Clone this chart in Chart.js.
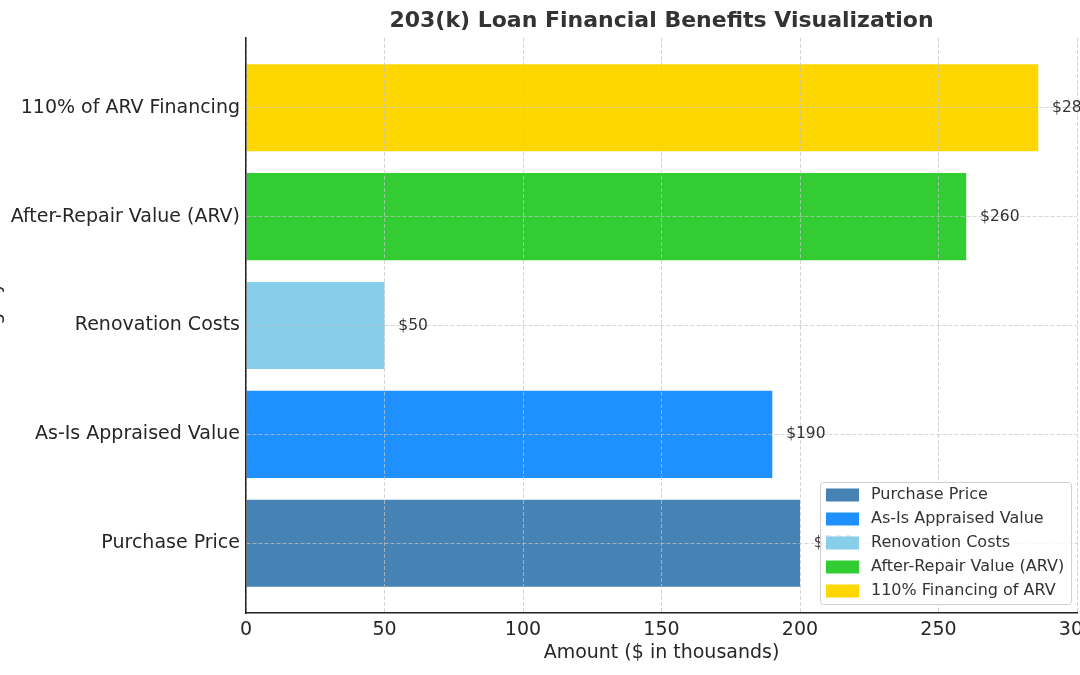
<!DOCTYPE html>
<html>
<head>
<meta charset="utf-8">
<script src="https://cdn.jsdelivr.net/npm/chart.js@4"></script>
<style>
  html, body { margin: 0; padding: 0; background: #ffffff; }
  #wrap { width: 1080px; height: 675px; }
</style>
</head>
<body>
<div id="wrap"><canvas id="c" width="1080" height="675"></canvas></div>
<script>
const categories = ['Purchase Price', 'As-Is Appraised Value', 'Renovation Costs', 'After-Repair Value (ARV)', '110% of ARV Financing'];
const amounts = [200, 190, 50, 260, 286];
const legendLabels = ['Purchase Price', 'As-Is Appraised Value', 'Renovation Costs', 'After-Repair Value (ARV)', '110% Financing of ARV'];
const barColors = ['#4682B4', '#1E90FF', '#87CEEB', '#32CD32', '#FFD700'];
const xTicks = [0, 50, 100, 150, 200, 250, 300];

const FONT = 'DejaVu Sans';
const TXT = '#262626';
const GRID = 'rgba(195,195,195,0.7)';

const valueLabels = {
  id: 'valueLabels',
  afterDraw(chart) {
    const ctx = chart.ctx;
    const xs = chart.scales.x;
    const meta = chart.getDatasetMeta(0);
    ctx.save();
    ctx.font = '15.5px "' + FONT + '"';
    ctx.fillStyle = '#333333';
    ctx.textAlign = 'left';
    ctx.textBaseline = 'middle';
    meta.data.forEach((bar, i) => {
      const v = amounts[i];
      ctx.fillText('$' + v, xs.getPixelForValue(v + 5), bar.y);
    });
    ctx.restore();
  }
};

const boxLegend = {
  id: 'boxLegend',
  afterDraw(chart) {
    const ctx = chart.ctx;
    const area = chart.chartArea;
    const boxW = 251, rowH = 24, boxH = 122;
    const x0 = area.right - 6 - boxW;
    const y0 = area.bottom - 9 - boxH;
    ctx.save();
    ctx.beginPath();
    ctx.roundRect(x0 + 0.5, y0 + 0.5, boxW, boxH, 3);
    ctx.fillStyle = 'rgba(255,255,255,0.85)';
    ctx.fill();
    ctx.strokeStyle = '#d0d0d0';
    ctx.lineWidth = 1;
    ctx.stroke();
    ctx.font = '16px "' + FONT + '"';
    ctx.textBaseline = 'middle';
    ctx.textAlign = 'left';
    legendLabels.forEach((lab, i) => {
      const cy = y0 + 13 + i * rowH;
      ctx.fillStyle = barColors[i];
      ctx.fillRect(x0 + 6, cy - 6.5, 33, 13);
      ctx.fillStyle = '#333333';
      ctx.fillText(lab, x0 + 51, cy);
    });
    ctx.restore();
  }
};

const ctx = document.getElementById('c').getContext('2d');
new Chart(ctx, {
  type: 'bar',
  data: {
    datasets: [{
      data: amounts.map((v, i) => ({ x: v, y: i })),
      backgroundColor: barColors,
      borderWidth: 0,
      barPercentage: 1.0,
      categoryPercentage: 0.8
    }]
  },
  options: {
    indexAxis: 'y',
    responsive: false,
    animation: false,
    devicePixelRatio: 1,
    layout: { padding: { left: 0, right: 3, top: 0, bottom: 0 } },
    plugins: {
      legend: { display: false },
      tooltip: { enabled: false },
      title: {
        display: true,
        text: '203(k) Loan Financial Benefits Visualization',
        fullSize: false,
        color: '#333333',
        font: { family: FONT, size: 22, weight: 'bold', lineHeight: 1.2 },
        padding: { top: 8, bottom: 3.6 }
      }
    },
    scales: {
      x: {
        type: 'linear',
        position: 'bottom',
        min: 0,
        max: 300,
        afterBuildTicks(scale) { scale.ticks = xTicks.map(v => ({ value: v })); },
        afterFit(scale) { scale.height = 62; scale.paddingLeft = 0; scale.paddingRight = 0; },
        ticks: { color: TXT, font: { family: FONT, size: 19 }, padding: 6, maxRotation: 0, autoSkip: false },
        grid: { z: 1, color: GRID, lineWidth: 1, drawTicks: false },
        border: { display: true, color: '#222', width: 1.5, dash: [4, 2], z: 2 },
        title: {
          display: true,
          text: 'Amount ($ in thousands)',
          color: TXT,
          font: { family: FONT, size: 19, lineHeight: 1.2 },
          padding: { top: 10.6, bottom: 10.6 }
        }
      },
      y: {
        type: 'linear',
        position: 'left',
        min: -0.64,
        max: 4.64,
        offset: false,
        afterBuildTicks(scale) { scale.ticks = categories.map((c, i) => ({ value: i })); },
        afterFit(scale) { scale.width = 246; scale.paddingTop = 0; scale.paddingBottom = 0; },
        ticks: {
          color: TXT,
          font: { family: FONT, size: 19 },
          padding: 6,
          autoSkip: false,
          callback: (v) => categories[v]
        },
        grid: { z: 1, offset: false, color: GRID, lineWidth: 1, drawTicks: false },
        border: { display: true, color: '#222', width: 1.5, dash: [4, 2], z: 2 },
        title: {
          display: true,
          text: 'Category',
          color: TXT,
          font: { family: FONT, size: 19, lineHeight: 1.2 },
          padding: { top: -16.2, bottom: -16.2 }
        }
      }
    }
  },
  plugins: [valueLabels, boxLegend]
});
</script>
</body>
</html>
